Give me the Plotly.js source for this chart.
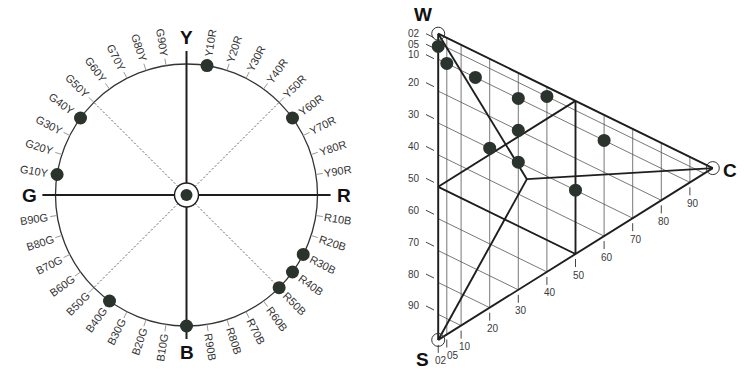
<!DOCTYPE html>
<html><head><meta charset="utf-8">
<script src="https://cdn.plot.ly/plotly-3.0.1.min.js"></script>
<style>html,body{margin:0;padding:0;background:#fff}#chart{width:750px;height:381px}</style>
</head><body><div id="chart"></div>
<script>
// ---------------- data ----------------
const hueNames = ['Y','Y10R','Y20R','Y30R','Y40R','Y50R','Y60R','Y70R','Y80R','Y90R',
  'R','R10B','R20B','R30B','R40B','R50B','R60B','R70B','R80B','R90B',
  'B','B10G','B20G','B30G','B40G','B50G','B60G','B70G','B80G','B90G',
  'G','G10Y','G20Y','G30Y','G40Y','G50Y','G60Y','G70Y','G80Y','G90Y'];
const mainHues = ['Y','R','B','G'];
const diagonalHues = ['Y50R','G50Y','B50G','R50B'];
const circleSamples = ['Y10R','Y60R','G40Y','G10Y','B40G','B','R50B','R40B','R30B'];

const cornerNames = ['W','S','C'];
const scaleValues = [2,5,10,20,30,40,50,60,70,80,90];
const scaleLabels = ['02','05','10','20','30','40','50','60','70','80','90'];
const sampleBlackness = [6,10,10,10,5,20,30,30,10,30];
const sampleChroma    = [2,5,15,30,40,30,20,30,60,50];
const centreBlackness = [34];
const centreChroma = [33];
const midValue = [50];

// ---------------- geometry / style ----------------
const DEG = Math.PI/180;
const R_PX = 131;
const EDGE = 2, FULL = 100;
const KC = 140/319;
const PXC = 2.86, PXV = 3.19;
const INK = '#1e1e1e', DOT = '#2b332d';
function labFont(){ return {family:'Liberation Sans, Arial, sans-serif', size:11, color:'#333333'}; }
function numFont(){ return {family:'Liberation Sans, Arial, sans-serif', size:10, color:'#3a3a3a'}; }
function bigFont(){ return {family:'Liberation Sans, Arial, sans-serif', size:19, color:'#111111', weight:'bold'}; }

const hueBase = {Y:90, R:0, B:-90, G:-180};
function hueAngle(name){
  const n = name.length > 1 ? parseInt(name.slice(1,-1),10) : 0;
  return (hueBase[name[0]] - 0.9*n) * DEG;
}
function polar(name, r){ const a = hueAngle(name); return [r*Math.cos(a), r*Math.sin(a)]; }
const cw = {Y:7.3,R:7.9,B:7.3,G:8.6};
function textW(t){ let w=0; for(const ch of t) w += cw[ch] || 6.1; return w; }
function norm(d){ return ((d+180)%360+360)%360-180; }
function tri(s,c){ return [c, s + KC*c]; }

const traces = [];
const annotations = [];
const shapes = [];

// ---------------- colour circle ----------------
shapes.push({type:'circle', xref:'x', yref:'y', x0:-1, x1:1, y0:-1, y1:1,
  line:{color:'#333', width:1.3}, layer:'below'});

{
  const x=[], y=[];
  hueNames.forEach(h=>{
    if (mainHues.includes(h)) return;
    const p0 = polar(h,1), p1 = polar(h,1+7/R_PX);
    x.push(p0[0],p1[0],null); y.push(p0[1],p1[1],null);
  });
  traces.push({x, y, xaxis:'x', yaxis:'y', mode:'lines', line:{color:'#9a9a9a', width:1}, hoverinfo:'skip'});
}
{
  const x=[], y=[];
  diagonalHues.forEach(h=>{
    const p0 = polar(h,12/R_PX), p1 = polar(h,1);
    x.push(p0[0],p1[0],null); y.push(p0[1],p1[1],null);
  });
  traces.push({x, y, xaxis:'x', yaxis:'y', mode:'lines', line:{color:'#333', width:0.8, dash:'2px,2px'}, hoverinfo:'skip'});
}
{
  const x=[], y=[];
  [['Y','B'],['G','R']].forEach(([a,b])=>{
    const p0 = polar(a,1.1), p1 = polar(b,1.1);
    x.push(p0[0],p1[0],null); y.push(p0[1],p1[1],null);
  });
  traces.push({x, y, xaxis:'x', yaxis:'y', mode:'lines', line:{color:INK, width:2}, hoverinfo:'skip'});
}
hueNames.forEach(h=>{
  const a = hueAngle(h);
  if (mainHues.includes(h)) {
    const p = polar(h,1.2);
    annotations.push({x:p[0], y:p[1], xref:'x', yref:'y', text:h, showarrow:false,
      xanchor:'center', yanchor:'middle', font:bigFont()});
    return;
  }
  const deg = norm(a/DEG);
  const ta = norm(Math.cos(a) >= 0 ? -deg : 180-deg);
  const r = (140 + textW(h)/2)/R_PX;
  annotations.push({x:r*Math.cos(a), y:r*Math.sin(a), xref:'x', yref:'y', text:h, textangle:ta,
    showarrow:false, xanchor:'center', yanchor:'middle', font:labFont()});
});
traces.push({x:circleSamples.map(h=>polar(h,1)[0]), y:circleSamples.map(h=>polar(h,1)[1]),
  xaxis:'x', yaxis:'y', mode:'markers', marker:{size:13, color:DOT}, hoverinfo:'skip'});
traces.push({x:[0], y:[0], xaxis:'x', yaxis:'y', mode:'markers',
  marker:{size:24, color:'#fff', line:{color:INK, width:1.4}}, hoverinfo:'skip'});
traces.push({x:[0], y:[0], xaxis:'x', yaxis:'y', mode:'markers',
  marker:{size:12, color:DOT}, hoverinfo:'skip'});

// ---------------- NCS triangle ----------------
{
  const x=[], y=[];
  scaleValues.forEach(t=>{
    let p0 = tri(t, EDGE), p1 = tri(t, FULL - t);
    x.push(p0[0],p1[0],null); y.push(p0[1],p1[1],null);
    p0 = tri(EDGE, t); p1 = tri(FULL - t, t);
    x.push(p0[0],p1[0],null); y.push(p0[1],p1[1],null);
  });
  traces.push({x, y, xaxis:'x2', yaxis:'y2', mode:'lines', line:{color:'#555', width:0.8}, hoverinfo:'skip'});
}
const W = tri(EDGE, EDGE), S = tri(FULL-EDGE, EDGE), C = tri(EDGE, FULL-EDGE);
// left scale: labels follow their lines, kept below the W corner level and 10.5px apart
const labelC = -11.5/PXC;
const leftY = scaleValues.map(t => tri(t, labelC)[1]);
leftY[0] = Math.max(leftY[0], W[1]);
for (let i = 1; i < leftY.length; i++) leftY[i] = Math.max(leftY[i], leftY[i-1] + 10.5/PXV);
// bottom scale: labels at least 12px apart horizontally
const botX = scaleValues.map(t => t + 3/PXC);
for (let i = 1; i < botX.length; i++) botX[i] = Math.max(botX[i], botX[i-1] + 12/PXC);
{
  const x=[], y=[];
  scaleValues.forEach((t,i)=>{
    x.push(labelC + 5/PXC, labelC + 13/PXC, null);
    y.push(leftY[i], leftY[i] + 4/PXV, null);
    const h = tri(FULL - t, t);
    x.push(h[0], h[0], null);
    y.push(h[1] + 5/PXV, h[1] + 13/PXV, null);
  });
  traces.push({x, y, xaxis:'x2', yaxis:'y2', mode:'lines', line:{color:'#444', width:1}, hoverinfo:'skip'});
}
scaleValues.forEach((t,i)=>{
  annotations.push({x:labelC, y:leftY[i], xref:'x2', yref:'y2', text:scaleLabels[i], showarrow:false,
    xanchor:'right', yanchor:'middle', borderpad:0, font:numFont()});
  const h = tri(FULL - t, t);
  annotations.push({x:botX[i], y:h[1] + 21/PXV, xref:'x2', yref:'y2', text:scaleLabels[i], showarrow:false,
    xanchor:'center', yanchor:'middle', borderpad:0, font:numFont()});
});
const P = tri(centreBlackness[0], centreChroma[0]);
const mL = tri(midValue[0], EDGE), mT = tri(EDGE, midValue[0]), mB = tri(midValue[0], midValue[0]);
{
  const segs = [[W,S],[S,C],[C,W],[mL,mT],[mL,mB],[mT,mB],[W,P],[P,C],[P,S]];
  const x=[], y=[];
  segs.forEach(([a,b])=>{ x.push(a[0],b[0],null); y.push(a[1],b[1],null); });
  traces.push({x, y, xaxis:'x2', yaxis:'y2', mode:'lines', line:{color:INK, width:1.9}, hoverinfo:'skip'});
}
const corners = [W,S,C];
traces.push({x:corners.map(p=>p[0]), y:corners.map(p=>p[1]), xaxis:'x2', yaxis:'y2', mode:'markers',
  marker:{symbol:'circle-open', size:13, color:'#333', line:{width:1}}, hoverinfo:'skip'});
const cornerShift = [[-15,19],[-16,-20],[17,-2]];
cornerNames.forEach((n,i)=>{
  annotations.push({x:corners[i][0], y:corners[i][1], xref:'x2', yref:'y2', text:n, showarrow:false,
    xanchor:'center', yanchor:'middle', xshift:cornerShift[i][0], yshift:cornerShift[i][1], font:bigFont()});
});
traces.push({x:sampleBlackness.map((s,i)=>tri(s,sampleChroma[i])[0]),
  y:sampleBlackness.map((s,i)=>tri(s,sampleChroma[i])[1]),
  xaxis:'x2', yaxis:'y2', mode:'markers', marker:{size:13, color:DOT}, hoverinfo:'skip'});

// ---------------- layout ----------------
const layout = {
  width:750, height:381, margin:{l:0,r:0,t:0,b:0},
  paper_bgcolor:'#fff', plot_bgcolor:'rgba(0,0,0,0)', showlegend:false,
  font:{family:'Liberation Sans, Arial, sans-serif', color:'#333'},
  xaxis:{domain:[0,1], range:[-186.5/R_PX, (750-186.5)/R_PX], visible:false, fixedrange:true},
  yaxis:{domain:[0,1], range:[-(381-195)/R_PX, 195/R_PX], visible:false, fixedrange:true},
  xaxis2:{overlaying:'x', range:[-432.5/PXC, (750-432.5)/PXC], visible:false, fixedrange:true},
  yaxis2:{overlaying:'y', range:[(381-24.5)/PXV, -24.5/PXV], visible:false, fixedrange:true},
  shapes, annotations
};
Plotly.newPlot('chart', traces, layout, {staticPlot:true, displayModeBar:false});
</script>
</body></html>
